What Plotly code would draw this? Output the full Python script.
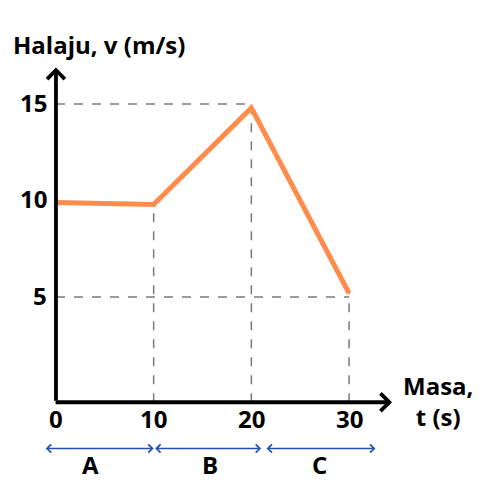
import plotly.graph_objects as go

# data
masa = [0, 10, 20, 30]
halaju = [9.9, 9.8, 14.8, 5.2]

y_ticks = [5, 10, 15]
x_ticks = [0, 10, 20, 30]

segments = ["A", "B", "C"]
seg_start = [-1.2, 10.0, 21.4]
seg_end = [10.0, 21.0, 32.7]
seg_label_x = [3.5, 15.8, 27.0]

ORANGE = "#FF8C4B"
GREY = "#7a7a7a"
BLUE = "#2252b0"
FONT = dict(family="Open Sans", size=24, color="black")

fig = go.Figure()

fig.add_trace(go.Scatter(
    x=masa, y=halaju, mode="lines",
    line=dict(color=ORANGE, width=5),
    hoverinfo="skip", showlegend=False
))

# dashed guide lines
dash = dict(color=GREY, width=1.5, dash="dash")
fig.add_shape(type="line", x0=0, x1=20, y0=15, y1=15, line=dash, layer="below")
fig.add_shape(type="line", x0=0, x1=30, y0=5, y1=5, line=dash, layer="below")
for xv, yv in zip(masa[1:], halaju[1:]):
    fig.add_shape(type="line", x0=xv, x1=xv, y0=-0.45, y1=yv, line=dash, layer="below")

# axes with arrows
fig.add_annotation(x=0, y=16.9, ax=0, ay=-0.45, xref="x", yref="y", axref="x", ayref="y",
                   showarrow=True, arrowhead=4, arrowsize=0.9, arrowwidth=3.8,
                   arrowcolor="black", text="")
fig.add_annotation(x=34.4, y=-0.45, ax=-0.19, ay=-0.45, xref="x", yref="y", axref="x", ayref="y",
                   showarrow=True, arrowhead=4, arrowsize=0.9, arrowwidth=3.8,
                   arrowcolor="black", text="")

# tick labels
for v in y_ticks:
    fig.add_annotation(x=-0.7, y=v + 0.1, text=f"<b>{v}</b>", showarrow=False,
                       xanchor="right", font=FONT)
for v in x_ticks:
    fig.add_annotation(x=v, y=-1.3, text=f"<b>{v}</b>", showarrow=False,
                       yanchor="middle", font=FONT)

# axis titles
fig.add_annotation(x=-4.6, y=18.1, text="<b>Halaju, v (m/s)</b>", showarrow=False,
                   xanchor="left", font=FONT)
fig.add_annotation(x=39.1, y=-0.4, text="<b>Masa,</b><br><b>t (s)</b>", showarrow=False,
                   align="center", font=FONT)

# segment arrows
for name, s, e, lx in zip(segments, seg_start, seg_end, seg_label_x):
    fig.add_annotation(x=e, y=-2.85, ax=s, ay=-2.85, xref="x", yref="y", axref="x", ayref="y",
                       showarrow=True, arrowhead=4, startarrowhead=4, arrowside="end+start",
                       arrowsize=1, startarrowsize=1, arrowwidth=1.6,
                       arrowcolor=BLUE, text="")
    fig.add_annotation(x=lx, y=-3.7, text=f"<b>{name}</b>", showarrow=False,
                       font=FONT)

fig.update_xaxes(range=[-4.91, 46.27], visible=False)
fig.update_yaxes(range=[-5.93, 19.98], visible=False)

fig.update_layout(
    width=500, height=500,
    margin=dict(l=0, r=0, t=0, b=0),
    plot_bgcolor="white", paper_bgcolor="white",
)

fig.write_html("out.html")
